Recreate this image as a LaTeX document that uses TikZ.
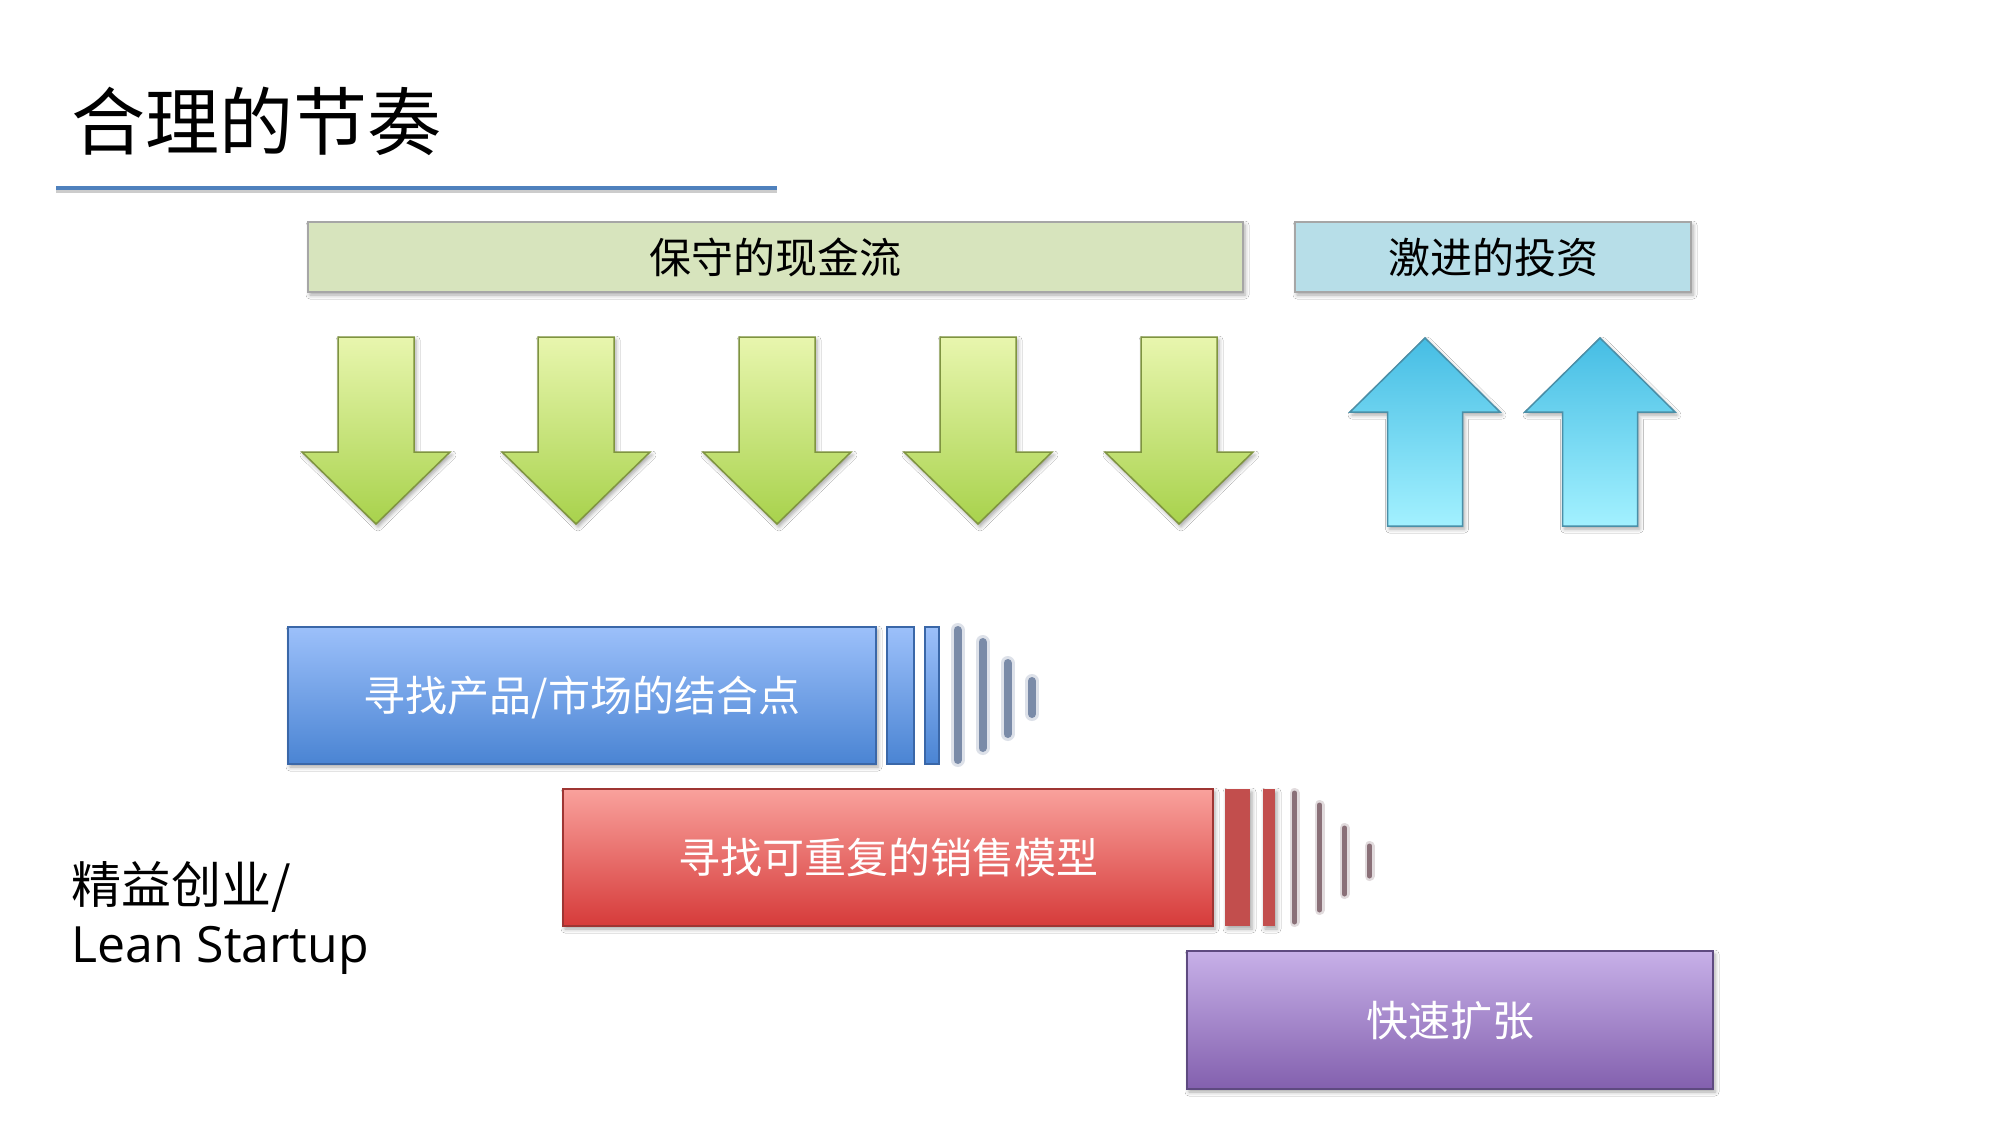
\documentclass[tikz,border=0pt]{standalone}
\usepackage{fontspec}
\usetikzlibrary{shadows.blur}
\newfontfamily\cjk{Noto Sans CJK SC}
\newfontfamily\latinfont{Open Sans}

\definecolor{rulecol}{HTML}{4F81BD}
\definecolor{hdrgreen}{HTML}{D7E4BD}
\definecolor{hdrblue}{HTML}{B7DEE8}
\definecolor{hdredge}{HTML}{A6A6A6}
\definecolor{bluetop}{HTML}{9CC0FA}
\definecolor{bluebot}{HTML}{4A84D3}
\definecolor{blueedge}{HTML}{3A67A8}
\definecolor{bluefade}{HTML}{7A8BA8}
\definecolor{redtop}{HTML}{F9A19C}
\definecolor{redbot}{HTML}{D63B3A}
\definecolor{rededge}{HTML}{9E3533}
\definecolor{redstripe}{HTML}{C24E4D}
\definecolor{redfade}{HTML}{8A7078}
\definecolor{purptop}{HTML}{C7B0E8}
\definecolor{purpbot}{HTML}{8360AE}
\definecolor{purpedge}{HTML}{5E4A80}
\definecolor{greentop}{HTML}{E8F6AE}
\definecolor{greenbot}{HTML}{A8D24C}
\definecolor{greenedge}{HTML}{7F9440}
\definecolor{cyantop}{HTML}{45BDE4}
\definecolor{cyanbot}{HTML}{A3F1FF}
\definecolor{cyanedge}{HTML}{4A8FA8}

\begin{document}
\begin{tikzpicture}[x=1pt,y=-1pt,
  softshadow/.style={blur shadow={shadow xshift=2pt,shadow yshift=-3pt,shadow blur radius=4pt,shadow opacity=35}},
  hdr/.style={draw=hdredge,line width=2pt,inner sep=0pt,softshadow,
    font=\cjk\fontsize{42}{50}\selectfont,text height=35pt,text depth=3pt},
  bar/.style={line width=2pt,inner sep=0pt,softshadow,text=white,
    font=\cjk\fontsize{42}{50}\selectfont,text height=35pt,text depth=3pt},
  downarrow/.style={top color=greentop,bottom color=greenbot,draw=greenedge,line width=1.5pt,line join=miter,softshadow},
  uparrow/.style={top color=cyantop,bottom color=cyanbot,draw=cyanedge,line width=1.5pt,line join=miter,softshadow},
  fadeline/.style={line cap=round}
]
\useasboundingbox[fill=white] (0,0) rectangle (1997,1125);

% title and its rule
\node[anchor=base west,inner sep=0pt,font=\cjk\fontsize{74}{84}\selectfont] (title) at (71,149) {合理的节奏};
\coordinate (ruleL) at (56,188);
\coordinate (ruleR) at (777,188);
\draw[gray!40,line width=3pt] ([yshift=-3pt]ruleL) -- ([yshift=-3pt]ruleR);
\draw[rulecol,line width=4pt] (ruleL) -- (ruleR);

% headers
\node[hdr,fill=hdrgreen,minimum width=935pt,minimum height=70pt] (cash) at (775.5,257) {保守的现金流};
\node[hdr,fill=hdrblue,minimum width=396pt,minimum height=70pt] (invest) at (1493,257) {激进的投资};

% green down arrows
\foreach \cx in {376,576,777,978,1179}{
  \shade[downarrow] ({\cx-38},337) -- ({\cx+38},337) -- ({\cx+38},452) -- ({\cx+74},452)
    -- (\cx,524) -- ({\cx-74},452) -- ({\cx-38},452) -- cycle;
}
% cyan up arrows
\foreach \cx in {1425,1600}{
  \shade[uparrow] ({\cx-37.5},526) -- ({\cx+37.5},526) -- ({\cx+37.5},412) -- ({\cx+75},412)
    -- (\cx,338) -- ({\cx-75},412) -- ({\cx-37.5},412) -- cycle;
}

% phase 1 bar with fading tail
\node[bar,top color=bluetop,bottom color=bluebot,draw=blueedge,minimum width=588pt,minimum height=137pt] (fit) at (582,695.5) {寻找产品/市场的结合点};
\shade[top color=bluetop,bottom color=bluebot,draw=blueedge,line width=2pt] (887,627) rectangle (914,764);
\shade[top color=bluetop,bottom color=bluebot,draw=blueedge,line width=2pt] (925,627) rectangle (939,764);
\foreach \x/\ya/\yb in {957.5/630/760,982.5/642/748,1007.5/663/734,1032/681/714}{
  \draw[fadeline,bluefade,opacity=0.25,line width=14pt] (\x,\ya) -- (\x,\yb);
  \draw[fadeline,bluefade,line width=8pt] (\x,\ya) -- (\x,\yb);
}

% phase 2 bar with fading tail
\node[bar,top color=redtop,bottom color=redbot,draw=rededge,minimum width=650pt,minimum height=137pt] (sales) at (888,857.5) {寻找可重复的销售模型};
\fill[redstripe,softshadow] (1225,789) rectangle (1250,926);
\fill[redstripe,softshadow] (1263,789) rectangle (1275,926);
\foreach \x/\ya/\yb in {1294.5/793/922,1319.5/805/910,1344.5/828/894,1369.5/846/876}{
  \draw[fadeline,redfade,opacity=0.25,line width=10pt] (\x,\ya) -- (\x,\yb);
  \draw[fadeline,redfade,line width=5pt] (\x,\ya) -- (\x,\yb);
}

% phase 3 bar
\node[bar,top color=purptop,bottom color=purpbot,draw=purpedge,minimum width=526pt,minimum height=138pt] (scale) at (1450,1020) {快速扩张};

% side label
\node[anchor=base west,inner sep=0pt,font=\cjk\fontsize{50}{60}\selectfont] (leanzh) at (71,903) {精益创业/};
\node[anchor=base west,inner sep=0pt,font=\latinfont\fontsize{50}{60}\selectfont] (leanen) at (71,962) {Lean Startup};
\end{tikzpicture}
\end{document}
